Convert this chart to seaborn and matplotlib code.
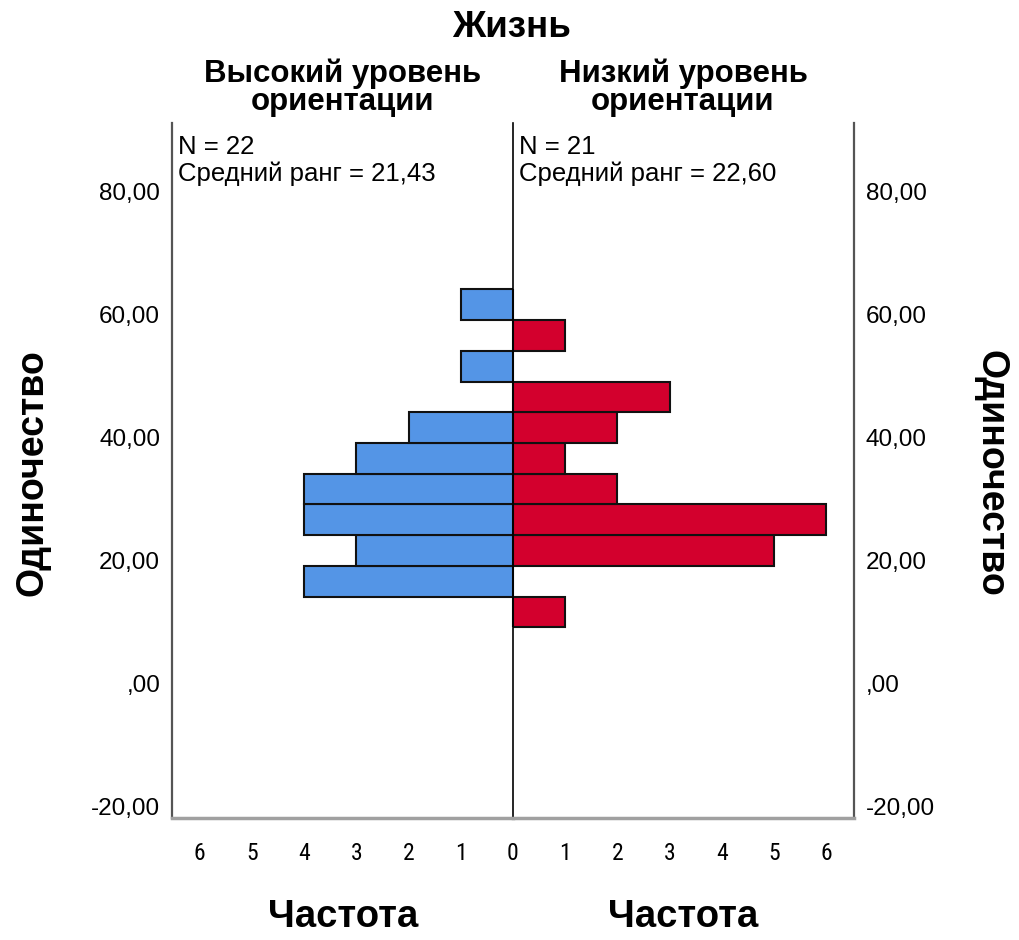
import numpy as np
import pandas as pd
import matplotlib
matplotlib.use("Agg")
import matplotlib.pyplot as plt
from matplotlib import font_manager
import seaborn as sns

# Histogram bins of the "Одиночество" score (width 5)
bin_start = 9.15
bin_width = 5.0
n_bins = 11

# Frequencies per bin, from the lowest bin to the highest
high_counts = [0, 4, 3, 4, 4, 3, 2, 0, 1, 0, 1]   # Высокий уровень ориентации
low_counts = [1, 0, 5, 6, 2, 1, 2, 3, 0, 1, 0]    # Низкий уровень ориентации

group_titles = ["Высокий уровень\nориентации", "Низкий уровень\nориентации"]
group_n = [22, 21]
group_mean_rank = ["21,43", "22,60"]

y_ticks = [-20, 0, 20, 40, 60, 80]
x_ticks = [0, 1, 2, 3, 4, 5, 6]

main_title = "Жизнь"
y_title = "Одиночество"
x_title = "Частота"

BLUE = "#5495E6"
RED = "#D3002D"

sns.set_theme(style="white")

# condensed sans for the frequency tick labels when one is installed
installed = {f.name for f in font_manager.fontManager.ttflist}
condensed = [n for n in ("Liberation Sans Narrow", "Arial Narrow", "Roboto Condensed",
                         "DejaVu Sans Condensed") if n in installed]
regular = ["Liberation Sans", "DejaVu Sans"]
narrow = condensed[:1] + regular

plt.rcParams["font.family"] = regular
for key in ("text.color", "axes.labelcolor", "xtick.color", "ytick.color"):
    plt.rcParams[key] = "black"

edges = [float(e) for e in bin_start + bin_width * np.arange(n_bins + 1)]
centers = [(a + b) / 2 for a, b in zip(edges[:-1], edges[1:])]
df_high = pd.DataFrame({"score": centers, "freq": high_counts})
df_low = pd.DataFrame({"score": centers, "freq": low_counts})

W, H = 1019, 940
fig = plt.figure(figsize=(W / 100, H / 100), dpi=100)

x_left, x_mid, x_right = 172, 513, 854
y_top, y_bot = 123, 818
axL = fig.add_axes([x_left / W, 1 - y_bot / H, (x_mid - x_left) / W, (y_bot - y_top) / H])
axR = fig.add_axes([x_mid / W, 1 - y_bot / H, (x_right - x_mid) / W, (y_bot - y_top) / H])

ylim = (-21.85, 91.2)
xmax = 6.53


def fmt(v):
    s = f"{v:.2f}".replace(".", ",")
    if s.startswith("0,"):
        s = s[1:]
    return s


for ax, df, color in [(axL, df_high, BLUE), (axR, df_low, RED)]:
    sns.histplot(data=df, y="score", weights="freq", bins=edges, ax=ax,
                 color=color, alpha=1.0, edgecolor="#111111", linewidth=1.5)
    ax.set_ylim(*ylim)
    ax.set_xlabel("")
    ax.set_ylabel("")
    ax.spines["top"].set_visible(False)
    ax.spines["bottom"].set_color("#a0a0a0")
    ax.spines["bottom"].set_linewidth(2.5)
    ax.tick_params(axis="both", length=0)
    ax.tick_params(axis="x", pad=17)
    ax.set_yticks(y_ticks)

tick_font = dict(fontsize=17, family=narrow)

axL.set_xlim(xmax, 0)
axR.set_xlim(0, xmax)

# left panel: outer left spine with tick labels
axL.spines["right"].set_visible(False)
axL.spines["left"].set_color("#555555")
axL.spines["left"].set_linewidth(1.6)
axL.set_yticklabels([fmt(t) for t in y_ticks], fontsize=17.5)
axL.tick_params(axis="y", pad=8.5)
axL.set_xticks(x_ticks[1:])
axL.set_xticklabels([str(t) for t in x_ticks[1:]], **tick_font)

# right panel: shared centre line and outer right spine
axR.spines["left"].set_color("black")
axR.spines["left"].set_linewidth(1.2)
axR.spines["right"].set_visible(True)
axR.spines["right"].set_color("#555555")
axR.spines["right"].set_linewidth(1.6)
axR.set_xticks(x_ticks)
axR.set_xticklabels([str(t) for t in x_ticks], **tick_font)
axR.yaxis.tick_right()
axR.set_yticks(y_ticks)
axR.set_yticklabels([fmt(t) for t in y_ticks], fontsize=17.5)
axR.tick_params(axis="y", pad=8.5, length=0)

# group statistics inside the panels
for ax, n, mr in [(axL, group_n[0], group_mean_rank[0]), (axR, group_n[1], group_mean_rank[1])]:
    x_px = ax.get_position().x0 * W + 6
    fig.text(x_px / W, 1 - 154 / H, f"N = {n}",
             ha="left", va="baseline", fontsize=18.5)
    fig.text(x_px / W, 1 - 181 / H, f"Средний ранг = {mr}",
             ha="left", va="baseline", fontsize=18.5)

# titles
fig.text(512 / W, 1 - 37 / H, main_title, ha="center", va="baseline",
         fontsize=26.5, fontweight="bold")
for xc, t in [(343, group_titles[0]), (683, group_titles[1])]:
    fig.text(xc / W, 1 - 110 / H, t, ha="center", va="baseline",
             fontsize=22.5, fontweight="bold", linespacing=0.9,
             multialignment="center")

# axis titles
for xc in (343, 683):
    fig.text(xc / W, 1 - 917 / H, x_title, ha="center", va="center",
             fontsize=27.5, fontweight="bold")
fig.text(33 / W, 1 - 473 / H, y_title, ha="center", va="center", rotation=90,
         fontsize=27, fontweight="bold")
fig.text(990 / W, 1 - 473 / H, y_title, ha="center", va="center", rotation=270,
         fontsize=27, fontweight="bold")

fig.savefig("out.png", dpi=100)
